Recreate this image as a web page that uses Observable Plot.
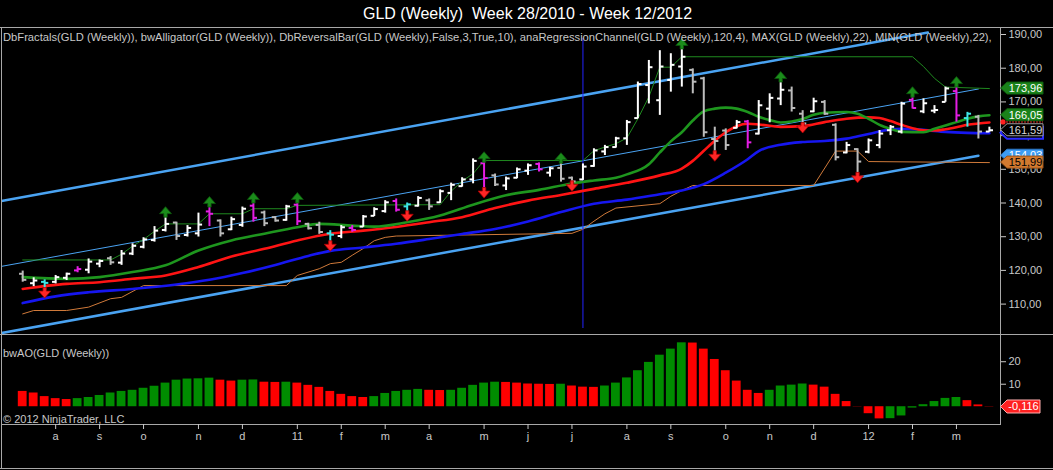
<!DOCTYPE html>
<html><head><meta charset="utf-8">
<script src="https://cdn.jsdelivr.net/npm/d3@7"></script>
<script src="https://cdn.jsdelivr.net/npm/@observablehq/plot@0.6"></script>
<style>
html,body{margin:0;padding:0;background:#000;}
#chart{position:relative;width:1053px;height:470px;background:#000;overflow:hidden;font-family:Arial,"Liberation Sans",Helvetica,sans-serif;}
.txt{position:absolute;white-space:pre;color:#c8c8c8;font-size:11px;line-height:13px;z-index:5;}
.ln{position:absolute;background:#a8a8a8;z-index:4;}
.panel{position:absolute;left:0;}
svg{display:block;overflow:visible;}
</style></head>
<body><div id="chart"></div>
<script>
// ---------------- DATA ----------------
const title = "GLD (Weekly)  Week 28/2010 - Week 12/2012";
const indicatorText = "DbFractals(GLD (Weekly)), bwAlligator(GLD (Weekly)), DbReversalBar(GLD (Weekly),False,3,True,10), anaRegressionChannel(GLD (Weekly),120,4), MAX(GLD (Weekly),22), MIN(GLD (Weekly),22),";
const aoText = "bwAO(GLD (Weekly))";
const copyText = "\u00a9 2012 NinjaTrader, LLC";

const weekIdx = d3.range(89);
const opens  = [119.0,116.2,116.6,116.6,117.8,120.0,120.2,122.0,123.6,122.3,125.0,127.0,129.0,132.0,134.2,130.5,131.0,137.5,134.8,132.2,133.5,139.2,137.2,135.8,135.0,139.5,133.8,133.5,131.0,130.2,132.6,133.0,136.2,137.6,140.6,139.0,139.2,140.8,140.2,143.0,145.0,147.0,151.8,148.2,145.2,147.5,149.6,151.6,149.0,150.4,147.5,147.0,151.0,155.3,156.6,159.2,165.2,175.0,170.5,176.5,180.5,179.5,177.0,159.0,161.5,162.3,164.2,160.6,168.0,171.0,173.4,166.5,167.2,170.0,163.2,155.0,156.0,155.2,157.2,161.6,161.2,170.6,167.2,167.4,170.0,173.2,165.2,165.6,161.2];
const highs  = [119.8,117.8,117.2,118.5,119.2,121.1,123.4,123.1,124.1,125.9,127.9,129.7,133.0,135.8,134.3,133.3,137.0,138.8,135.0,135.8,138.8,140.0,137.6,136.0,139.3,140.0,134.0,134.3,131.8,133.3,133.3,136.3,138.6,140.7,141.2,140.0,141.9,141.2,143.9,145.9,147.5,153.1,152.1,148.6,147.7,150.4,151.6,151.9,150.6,151.8,147.7,151.6,156.1,157.1,159.5,164.5,175.9,182.3,185.2,184.3,185.7,179.8,177.3,162.5,162.0,164.5,164.5,170.4,172.4,175.9,174.4,167.4,171.1,170.4,163.5,158.0,156.1,159.0,161.5,163.0,169.9,171.4,170.9,168.9,174.4,174.4,166.9,166.0,162.5];
const lows   = [116.5,115.2,114.0,116.0,117.0,119.3,119.0,120.8,121.5,121.5,124.4,126.4,128.4,131.4,128.9,129.9,129.9,133.0,129.9,131.8,132.8,134.3,133.0,134.3,134.6,133.3,132.0,130.7,127.9,129.4,131.3,132.8,136.0,137.0,137.3,136.8,138.8,137.8,139.9,140.7,144.7,145.7,143.7,144.9,143.7,147.2,148.2,149.2,147.7,146.2,145.7,146.7,150.6,154.1,156.3,157.1,165.0,169.4,166.0,172.9,174.4,172.4,159.5,154.6,155.6,162.0,156.1,160.2,163.8,168.9,167.0,163.0,166.8,166.0,152.5,154.6,148.2,154.6,156.1,160.0,160.5,167.9,166.5,166.5,169.9,164.0,162.5,159.0,161.0];
const closes = [117.2,117.0,116.3,118.0,119.0,120.4,122.6,122.8,122.4,125.0,127.3,129.2,131.8,133.8,130.2,132.6,133.6,136.8,131.0,135.2,138.3,135.6,134.0,134.8,139.0,134.6,132.5,131.4,130.6,132.8,132.0,136.0,138.2,140.2,138.0,139.6,141.5,139.0,143.5,145.4,147.0,152.5,147.4,145.5,147.3,150.0,151.2,150.0,150.3,147.2,146.4,150.8,155.6,156.6,159.2,164.0,175.3,180.3,180.5,181.0,183.4,176.0,161.0,158.4,157.2,164.0,158.0,169.0,171.2,173.6,168.2,163.6,170.2,166.5,153.6,157.2,152.3,158.6,160.6,162.6,169.5,168.2,169.6,167.6,174.0,166.0,166.5,161.2,161.59];

// DbReversalBar signals
const bearReversal = [5,17,21,25,30,34,42,47,66,81,85];
const bullReversal = [2,28,35,86];
// DbFractals
const fractalUp = [13,17,21,25,42,49,60,69,81,85];
const fractalDown = [2,28,35,42,50,63,71,76];

// bwAlligator (lips / teeth / jaw) read at bar indexes
const lipsIdx = [0,4,7,10,13,16,19,22,25,27,30,32,35,38,41,44,47,50,52,54,55,57,58,59,60,61,62,63,64,65,66,67,68,69,70,71,72,73,75,76,77,78,79,80,82,83,84,85,86,87,88];
const lipsVal = [118.0,117.5,118.0,119.5,121.5,125.9,128.9,130.9,132.8,133.8,133.3,133.0,134.3,136.3,139.5,142.3,143.9,145.8,146.7,147.5,148.5,151.5,155.0,158.3,161.0,164.5,167.2,168.0,168.3,168.0,167.0,165.6,164.6,163.9,164.2,164.9,166.2,166.8,167.0,166.5,165.0,163.2,162.0,161.1,161.0,162.0,163.0,164.0,165.0,165.7,166.05];
const teethIdx = [0,4,7,10,13,16,19,22,25,28,31,34,37,40,43,46,49,52,55,58,60,61,62,63,64,65,66,67,69,71,73,75,77,78,79,80,81,82,83,84,85,86,87,88];
const teethVal = [114.5,116.0,116.5,117.5,118.5,121.0,124.1,126.4,128.9,130.9,131.8,132.9,134.3,135.8,138.5,140.7,142.4,144.2,146.0,148.2,150.2,152.5,155.5,158.5,161.0,162.8,163.5,163.3,162.6,162.8,164.0,165.0,165.4,165.2,164.3,163.2,162.2,161.6,161.5,161.9,162.5,163.2,163.6,163.9];
const jawIdx = [0,3,6,10,14,17,20,23,26,28,31,34,37,40,43,46,49,52,55,58,60,62,64,66,67,69,71,73,75,77,79,80,82,84,86,88];
const jawVal = [110.3,112.3,113.5,114.5,115.8,117.2,119.2,121.6,124.3,125.8,126.8,127.9,129.3,130.8,132.3,134.5,137.3,139.8,141.0,142.6,143.7,145.6,149.0,153.0,155.4,157.3,158.1,158.4,159.1,160.5,161.8,162.0,161.7,161.1,160.8,160.7];

// MAX(22) / MIN(22)
const maxIdx = [0,8,9,10,11,12,13,16,17,20,21,24,25,38,39,40,41,42,51,52,53,54,55,56,57,58,59,60,81,82,83,84,88];
const maxVal = [123.1,123.1,124.8,127.2,129.2,131.6,133.8,133.8,136.8,136.8,138.3,138.3,139.3,139.5,143.5,146.5,148.7,152.6,152.6,155.5,156.6,157.6,159.3,165.0,171.5,180.3,180.3,183.4,183.4,180.5,177.0,174.4,173.96];
const minIdx = [0,1,4,6,8,9,11,24,25,27,28,29,30,31,32,33,34,50,51,52,53,54,58,59,60,61,72,74,76,77,88];
const minVal = [107.1,108.1,108.1,109.1,111.6,112.0,115.5,115.5,118.5,120.5,122.0,122.4,124.5,126.5,128.8,129.8,130.2,131.0,132.2,134.6,136.8,138.5,139.8,142.0,143.7,145.2,145.2,155.4,155.4,152.3,151.99];

// anaRegressionChannel endpoints
const regUpperIdx = [-1.93, 82.4];
const regUpper = [140.6, 190.6];
const regIdx = [-1.93, 87];
const regMid = [121.2, 173.83];
const regLower = [101.4, 154.03];
const markerIdx = [51];

// bwAO histogram
const aoVal = [6.8,6.1,4.5,3.6,3.2,3.6,4.1,5.0,6.1,6.8,7.3,8.2,9.1,10.5,11.8,12.3,12.4,12.7,11.8,11.4,11.8,11.9,10.9,10.8,10.9,10.5,9.5,8.6,6.8,5.5,4.5,4.1,4.5,5.9,6.8,7.3,7.7,7.3,7.2,7.3,8.2,9.5,10.5,10.9,10.8,10.5,10.1,10.0,9.9,10.0,9.2,8.7,8.6,9.2,10.5,12.8,16.0,19.7,22.9,25.6,28.4,28.3,25.6,21.0,16.0,11.4,7.3,5.9,7.3,9.2,9.6,10.1,9.6,8.7,5.5,2.3,0.1,-3.1,-5.4,-5.3,-4.1,-0.6,0.9,2.3,3.7,4.1,2.7,0.8,-0.116];
const aoPrior = 7.4;

// axes
const priceTicks = [110,120,130,140,150,160,170,180,190];
const aoTicks = [10,20];
const monthIdx = [3,7,11,16,20,25,29,33,37,42,46,50,55,59,64,68,72,77,81,85];
const monthLabels = ["a","s","o","n","d","11","f","m","a","m","j","j","a","s","o","n","d","12","f","m"];

// ---------------- BUILD ----------------
const FONT = "Arial, 'Liberation Sans', Helvetica, sans-serif";
const xDomain = [-1.93, 89.01];
const comma = (v, n) => v.toFixed(n).replace(".", ",");

const bars = weekIdx.map(i => ({
  i, o: opens[i], h: highs[i], l: lows[i], c: closes[i],
  kind: bearReversal.includes(i) ? "bear" : bullReversal.includes(i) ? "bull" : (closes[i] >= opens[i] ? "up" : "down")
}));
const barColors = {up: "#ffffff", down: "#bcbcbc", bear: "#e41ee4", bull: "#3ee6e6"};
const barStroke = d => barColors[d.kind];
const pts = (idx, val) => idx.map((i, k) => ({i, v: val[k]}));

const arrowUp = {draw(ctx) {
  ctx.moveTo(0, -6.5); ctx.lineTo(6, 0.5); ctx.lineTo(1.7, 0.5); ctx.lineTo(1.7, 4);
  ctx.lineTo(-1.7, 4); ctx.lineTo(-1.7, 0.5); ctx.lineTo(-6, 0.5); ctx.closePath();
}};
const arrowDown = {draw(ctx) {
  ctx.moveTo(0, 6.5); ctx.lineTo(6, -0.5); ctx.lineTo(1.7, -0.5); ctx.lineTo(1.7, -4);
  ctx.lineTo(-1.7, -4); ctx.lineTo(-1.7, -0.5); ctx.lineTo(-6, -0.5); ctx.closePath();
}};

const chart = document.getElementById("chart");

const pricePlot = Plot.plot({
  width: 1053, height: 307,
  marginLeft: 1, marginRight: 53, marginTop: 0, marginBottom: 0,
  x: {domain: xDomain, axis: null},
  y: {domain: [100.98, 192.08], axis: null},
  color: {type: "identity"},
  style: {background: "transparent", color: "#c8c8c8", fontSize: "11px", fontFamily: FONT},
  marks: [
    Plot.frame({stroke: "#a8a8a8"}),
    Plot.line(pts(regUpperIdx, regUpper), {x: "i", y: "v", stroke: "#4aa3f2", strokeWidth: 2.5, clip: true}),
    Plot.line(pts(regIdx, regMid), {x: "i", y: "v", stroke: "#4aa3f2", strokeWidth: 1, clip: true}),
    Plot.line(pts(regIdx, regLower), {x: "i", y: "v", stroke: "#4aa3f2", strokeWidth: 2.5, clip: true}),
    Plot.line(pts(minIdx, minVal), {x: "i", y: "v", stroke: "#d07a3a", strokeWidth: 1}),
    Plot.line(pts(maxIdx, maxVal), {x: "i", y: "v", stroke: "#1f8a1f", strokeWidth: 1}),
    Plot.ruleX(markerIdx, {x: d => d, stroke: "#2222ff", strokeWidth: 1, insetTop: 11, insetBottom: 6}),
    Plot.line(pts(jawIdx, jawVal), {x: "i", y: "v", stroke: "#1616f0", strokeWidth: 2.6, curve: "monotone-x"}),
    Plot.line(pts(teethIdx, teethVal), {x: "i", y: "v", stroke: "#ff1414", strokeWidth: 2.6, curve: "monotone-x"}),
    Plot.line(pts(lipsIdx, lipsVal), {x: "i", y: "v", stroke: "#1e961e", strokeWidth: 2.6, curve: "monotone-x"}),
    Plot.ruleX(bars, {x: "i", y1: "l", y2: "h", stroke: barStroke, strokeWidth: 2}),
    Plot.link(bars, {x1: d => d.i - 0.33, x2: "i", y1: "o", y2: "o", stroke: barStroke, strokeWidth: 2}),
    Plot.link(bars, {x1: "i", x2: d => d.i + 0.33, y1: "c", y2: "c", stroke: barStroke, strokeWidth: 2}),
    Plot.dot(fractalUp.map(i => bars[i]), {x: "i", y: "h", symbol: arrowUp, r: 5, dy: -4, fill: "#1b8c1b", stroke: "#0c560c", strokeWidth: 0.8}),
    Plot.dot(fractalDown.map(i => bars[i]), {x: "i", y: "l", symbol: arrowDown, r: 5, dy: 1, fill: "#ff2626", stroke: "#a80000", strokeWidth: 0.8}),
    Plot.axisY({anchor: "right", ticks: priceTicks, tickFormat: d => comma(d, 2), tickSize: 5, tickPadding: 3, label: null, fontSize: 11})
  ]
});
pricePlot.classList.add("panel");
pricePlot.style.top = "27px";
chart.appendChild(pricePlot);

// value flags on the price axis (positions from Plot's y scale)
const ys = pricePlot.scale("y");
const psvg = d3.select(pricePlot);
function flag(svg, y, label, fill, stroke, sw, textFill) {
  const g = svg.append("g");
  g.append("path").attr("d", `M1000.5,${y}L1007,${y - 6}H1043V${y + 6}H1007Z`)
    .attr("fill", fill).attr("stroke", stroke).attr("stroke-width", sw);
  if (label) g.append("text").attr("x", 1025.5).attr("y", y).attr("dy", "0.36em")
    .attr("text-anchor", "middle").attr("fill", textFill).attr("font-size", 11)
    .attr("font-family", FONT).text(label);
}
const last = a => a[a.length - 1];
// jaw (hidden behind close flag)
flag(psvg, ys.apply(last(jawVal)), null, "#000", "#2a2aff", 2, null);
// teeth marker
const yT = ys.apply(last(teethVal));
psvg.append("line").attr("x1", 1003).attr("x2", 1043).attr("y1", yT).attr("y2", yT)
  .attr("stroke", "#ff3030").attr("stroke-dasharray", "2,1");
psvg.append("circle").attr("cx", 1003).attr("cy", yT).attr("r", 2.6).attr("fill", "#ff2020");
flag(psvg, ys.apply(last(closes)), comma(last(closes), 2), "#000", "#9a9a9a", 1, "#d8d8d8");
flag(psvg, ys.apply(last(lipsVal)), comma(last(lipsVal), 2), "#1a821a", "#0f5f0f", 1, "#ffffff");
flag(psvg, ys.apply(last(maxVal)), comma(last(maxVal), 2), "#1a821a", "#0f5f0f", 1, "#ffffff");
flag(psvg, ys.apply(last(regLower)), comma(last(regLower), 2), "#3d9cf3", "#2a78c8", 1, "#ffffff");
flag(psvg, ys.apply(last(minVal)), comma(last(minVal), 2), "#d27a30", "#9a5218", 1, "#000000");

// AO panel
const ao = aoVal.map((v, i) => ({i, v, up: v > (i === 0 ? aoPrior : aoVal[i - 1])}));
const aoPlot = Plot.plot({
  width: 1053, height: 136,
  marginLeft: 1, marginRight: 53, marginTop: 0, marginBottom: 46,
  x: {domain: xDomain, axis: null},
  y: {domain: [-7.9, 32.1], axis: null},
  color: {type: "identity"},
  style: {background: "transparent", color: "#c8c8c8", fontSize: "11px", fontFamily: FONT},
  marks: [
    Plot.frame({stroke: "#a8a8a8"}),
    Plot.rect(ao, {x1: d => d.i - 0.4, x2: d => d.i + 0.4, y1: d => 0, y2: "v", fill: d => d.up ? "#008c00" : "#ff0000"}),
    Plot.axisY({anchor: "right", ticks: aoTicks, tickSize: 5, tickPadding: 3, label: null, fontSize: 11}),
    Plot.axisX({anchor: "bottom", ticks: monthIdx, tickFormat: d => monthLabels[monthIdx.indexOf(d)], tickSize: 5, tickPadding: 3, label: null, fontSize: 11})
  ]
});
aoPlot.classList.add("panel");
aoPlot.style.top = "334px";
chart.appendChild(aoPlot);
const yA = aoPlot.scale("y").apply(last(aoVal));
const asvg = d3.select(aoPlot);
const ag = asvg.append("g");
ag.append("path").attr("d", `M1000.5,${yA}L1007,${yA - 6.5}H1040V${yA + 6.5}H1007Z`)
  .attr("fill", "#ff2020").attr("stroke", "#ffb0b0").attr("stroke-width", 1);
ag.append("text").attr("x", 1023.5).attr("y", yA).attr("dy", "0.36em").attr("text-anchor", "middle")
  .attr("fill", "#fff").attr("font-size", 11).attr("font-family", FONT).text(comma(last(aoVal), 3));

// texts and frame lines
function addDiv(cls, css, text) {
  const d = document.createElement("div");
  d.className = cls; d.style.cssText = css; if (text != null) d.textContent = text;
  chart.appendChild(d); return d;
}
addDiv("txt", "left:0;top:5px;width:1055px;text-align:center;color:#ffffff;font-size:16px;line-height:18px;", title);
addDiv("txt", "left:3px;top:31px;font-size:11.2px;", indicatorText);
addDiv("txt", "left:3px;top:347px;", aoText);
addDiv("txt", "left:3px;top:413px;", copyText);
addDiv("ln", "left:0;top:27px;width:1053px;height:1px;");
addDiv("ln", "left:0;top:334px;width:1053px;height:1px;");
addDiv("ln", "left:0;top:468px;width:1053px;height:1px;");
addDiv("ln", "left:1px;top:27px;width:1px;height:442px;");
</script>
</body></html>
